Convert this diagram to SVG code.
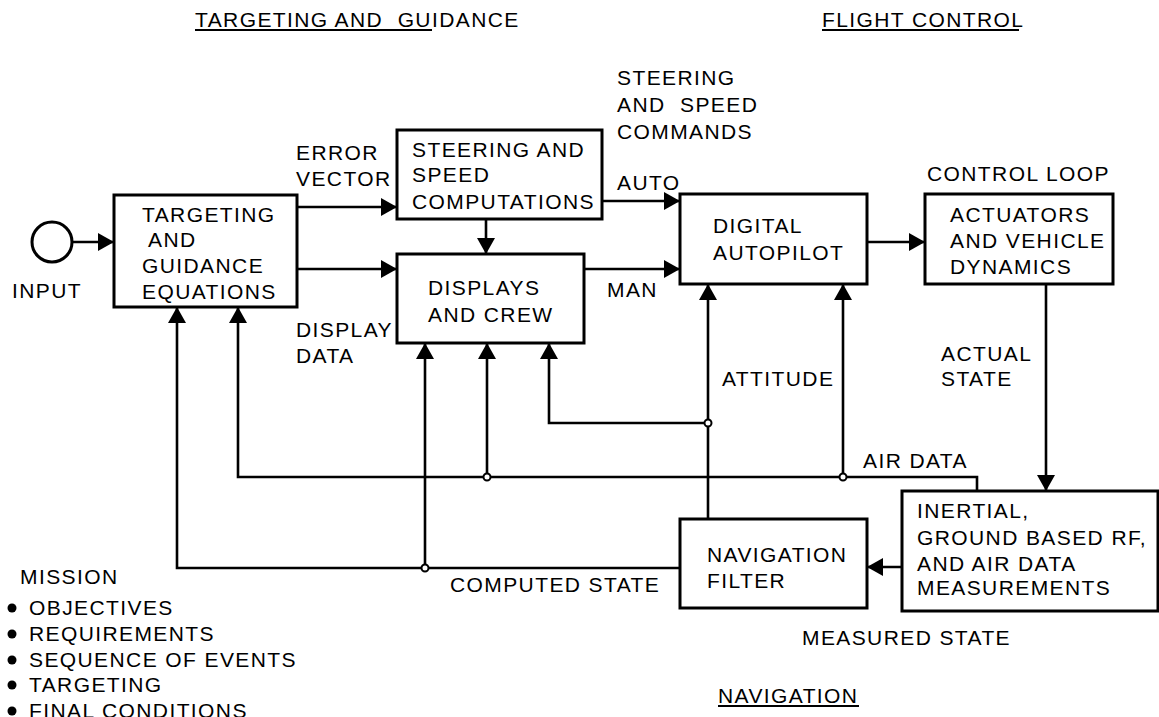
<svg xmlns="http://www.w3.org/2000/svg" width="1159" height="717" viewBox="0 0 1159 717">
<style>
text{font-family:"Liberation Sans",Arial,sans-serif;font-size:21px;letter-spacing:1.4px;fill:#000;white-space:pre}
.box{fill:#fff;stroke:#000;stroke-width:3}
.c{fill:none;stroke:#000;stroke-width:2.6}
.a{marker-end:url(#ah)}
.dot{fill:#fff;stroke:#000;stroke-width:2}
.u{stroke:#000;stroke-width:2}
</style>
<defs>
<marker id="ah" viewBox="0 0 16 18" refX="16" refY="9" markerWidth="16" markerHeight="18" orient="auto" markerUnits="userSpaceOnUse"><path d="M0,0 L16,9 L0,18 Z" fill="#000"/></marker>
</defs>
<rect width="1159" height="717" fill="#fff"/>

<g id="titles">
<text x="195" y="27">TARGETING AND  GUIDANCE</text>
<line class="u" x1="195" y1="30" x2="432" y2="30"/>
<text x="822" y="27">FLIGHT CONTROL</text>
<line class="u" x1="822" y1="30" x2="1019" y2="30"/>
<text x="718" y="703">NAVIGATION</text>
<line class="u" x1="718" y1="706" x2="859" y2="706"/>
</g>

<g id="connectors">
<line class="c a" x1="73" y1="242" x2="114" y2="242"/>
<line class="c a" x1="297" y1="207" x2="397" y2="207"/>
<line class="c a" x1="297" y1="269" x2="397" y2="269"/>
<line class="c a" x1="486" y1="219" x2="486" y2="254"/>
<line class="c a" x1="602" y1="201" x2="680" y2="201"/>
<line class="c a" x1="584" y1="269" x2="680" y2="269"/>
<line class="c a" x1="867" y1="242" x2="925" y2="242"/>
<line class="c a" x1="1046" y1="284" x2="1046" y2="491"/>
<line class="c a" x1="902" y1="567" x2="867" y2="567"/>
<polyline class="c a" points="977,491 977,477 238,477 238,307"/>
<line class="c a" x1="843" y1="477" x2="843" y2="284"/>
<line class="c a" x1="487" y1="477" x2="487" y2="343"/>
<line class="c a" x1="708" y1="519" x2="708" y2="284"/>
<polyline class="c a" points="708,423 549,423 549,343"/>
<polyline class="c a" points="680,568 177,568 177,307"/>
<line class="c a" x1="425" y1="568" x2="425" y2="343"/>
<circle class="dot" cx="843" cy="477" r="3.5"/>
<circle class="dot" cx="487" cy="477" r="3.5"/>
<circle class="dot" cx="708" cy="423" r="3.5"/>
<circle class="dot" cx="425" cy="568" r="3.5"/>
</g>

<g id="input">
<circle cx="52" cy="242" r="20" fill="#fff" stroke="#000" stroke-width="3"/>
<text x="12" y="298">INPUT</text>
</g>

<g id="targeting">
<rect class="box" x="114" y="195" width="183" height="112"/>
<text x="142" y="222">TARGETING</text>
<text x="142" y="247"> AND</text>
<text x="142" y="273">GUIDANCE</text>
<text x="142" y="299">EQUATIONS</text>
</g>

<g id="steering">
<rect class="box" x="397" y="130" width="205" height="89"/>
<text x="412" y="157">STEERING AND</text>
<text x="412" y="182">SPEED</text>
<text x="412" y="209">COMPUTATIONS</text>
</g>

<g id="displays">
<rect class="box" x="397" y="254" width="187" height="89"/>
<text x="428" y="295">DISPLAYS</text>
<text x="428" y="322">AND CREW</text>
</g>

<g id="autopilot">
<rect class="box" x="680" y="194" width="187" height="90"/>
<text x="713" y="233">DIGITAL</text>
<text x="713" y="260">AUTOPILOT</text>
</g>

<g id="actuators">
<rect class="box" x="925" y="194" width="188" height="90"/>
<text x="950" y="222">ACTUATORS</text>
<text x="950" y="248">AND VEHICLE</text>
<text x="950" y="274">DYNAMICS</text>
</g>

<g id="navfilter">
<rect class="box" x="680" y="519" width="187" height="89"/>
<text x="707" y="562">NAVIGATION</text>
<text x="707" y="588">FILTER</text>
</g>

<g id="measurements">
<rect class="box" x="902" y="491" width="256" height="120"/>
<text x="917" y="518">INERTIAL,</text>
<text x="917" y="545">GROUND BASED RF,</text>
<text x="917" y="571">AND AIR DATA</text>
<text x="917" y="595">MEASUREMENTS</text>
</g>

<g id="labels">
<text x="296" y="160">ERROR</text>
<text x="296" y="186">VECTOR</text>
<text x="296" y="337">DISPLAY</text>
<text x="296" y="363">DATA</text>
<text x="617" y="85">STEERING</text>
<text x="617" y="112">AND  SPEED</text>
<text x="617" y="139">COMMANDS</text>
<text x="617" y="190">AUTO</text>
<text x="607" y="297">MAN</text>
<text x="927" y="181">CONTROL LOOP</text>
<text x="941" y="361">ACTUAL</text>
<text x="941" y="386">STATE</text>
<text x="722" y="386">ATTITUDE</text>
<text x="863" y="468">AIR DATA</text>
<text x="450" y="592">COMPUTED STATE</text>
<text x="802" y="645">MEASURED STATE</text>
</g>

<g id="mission">
<text x="20" y="584">MISSION</text>
<circle cx="12" cy="608" r="4.5"/>
<text x="29" y="615">OBJECTIVES</text>
<circle cx="12" cy="634" r="4.5"/>
<text x="29" y="641">REQUIREMENTS</text>
<circle cx="12" cy="660" r="4.5"/>
<text x="29" y="667">SEQUENCE OF EVENTS</text>
<circle cx="12" cy="685" r="4.5"/>
<text x="29" y="692">TARGETING</text>
<circle cx="12" cy="711" r="4.5"/>
<text x="29" y="718">FINAL CONDITIONS</text>
</g>
</svg>
